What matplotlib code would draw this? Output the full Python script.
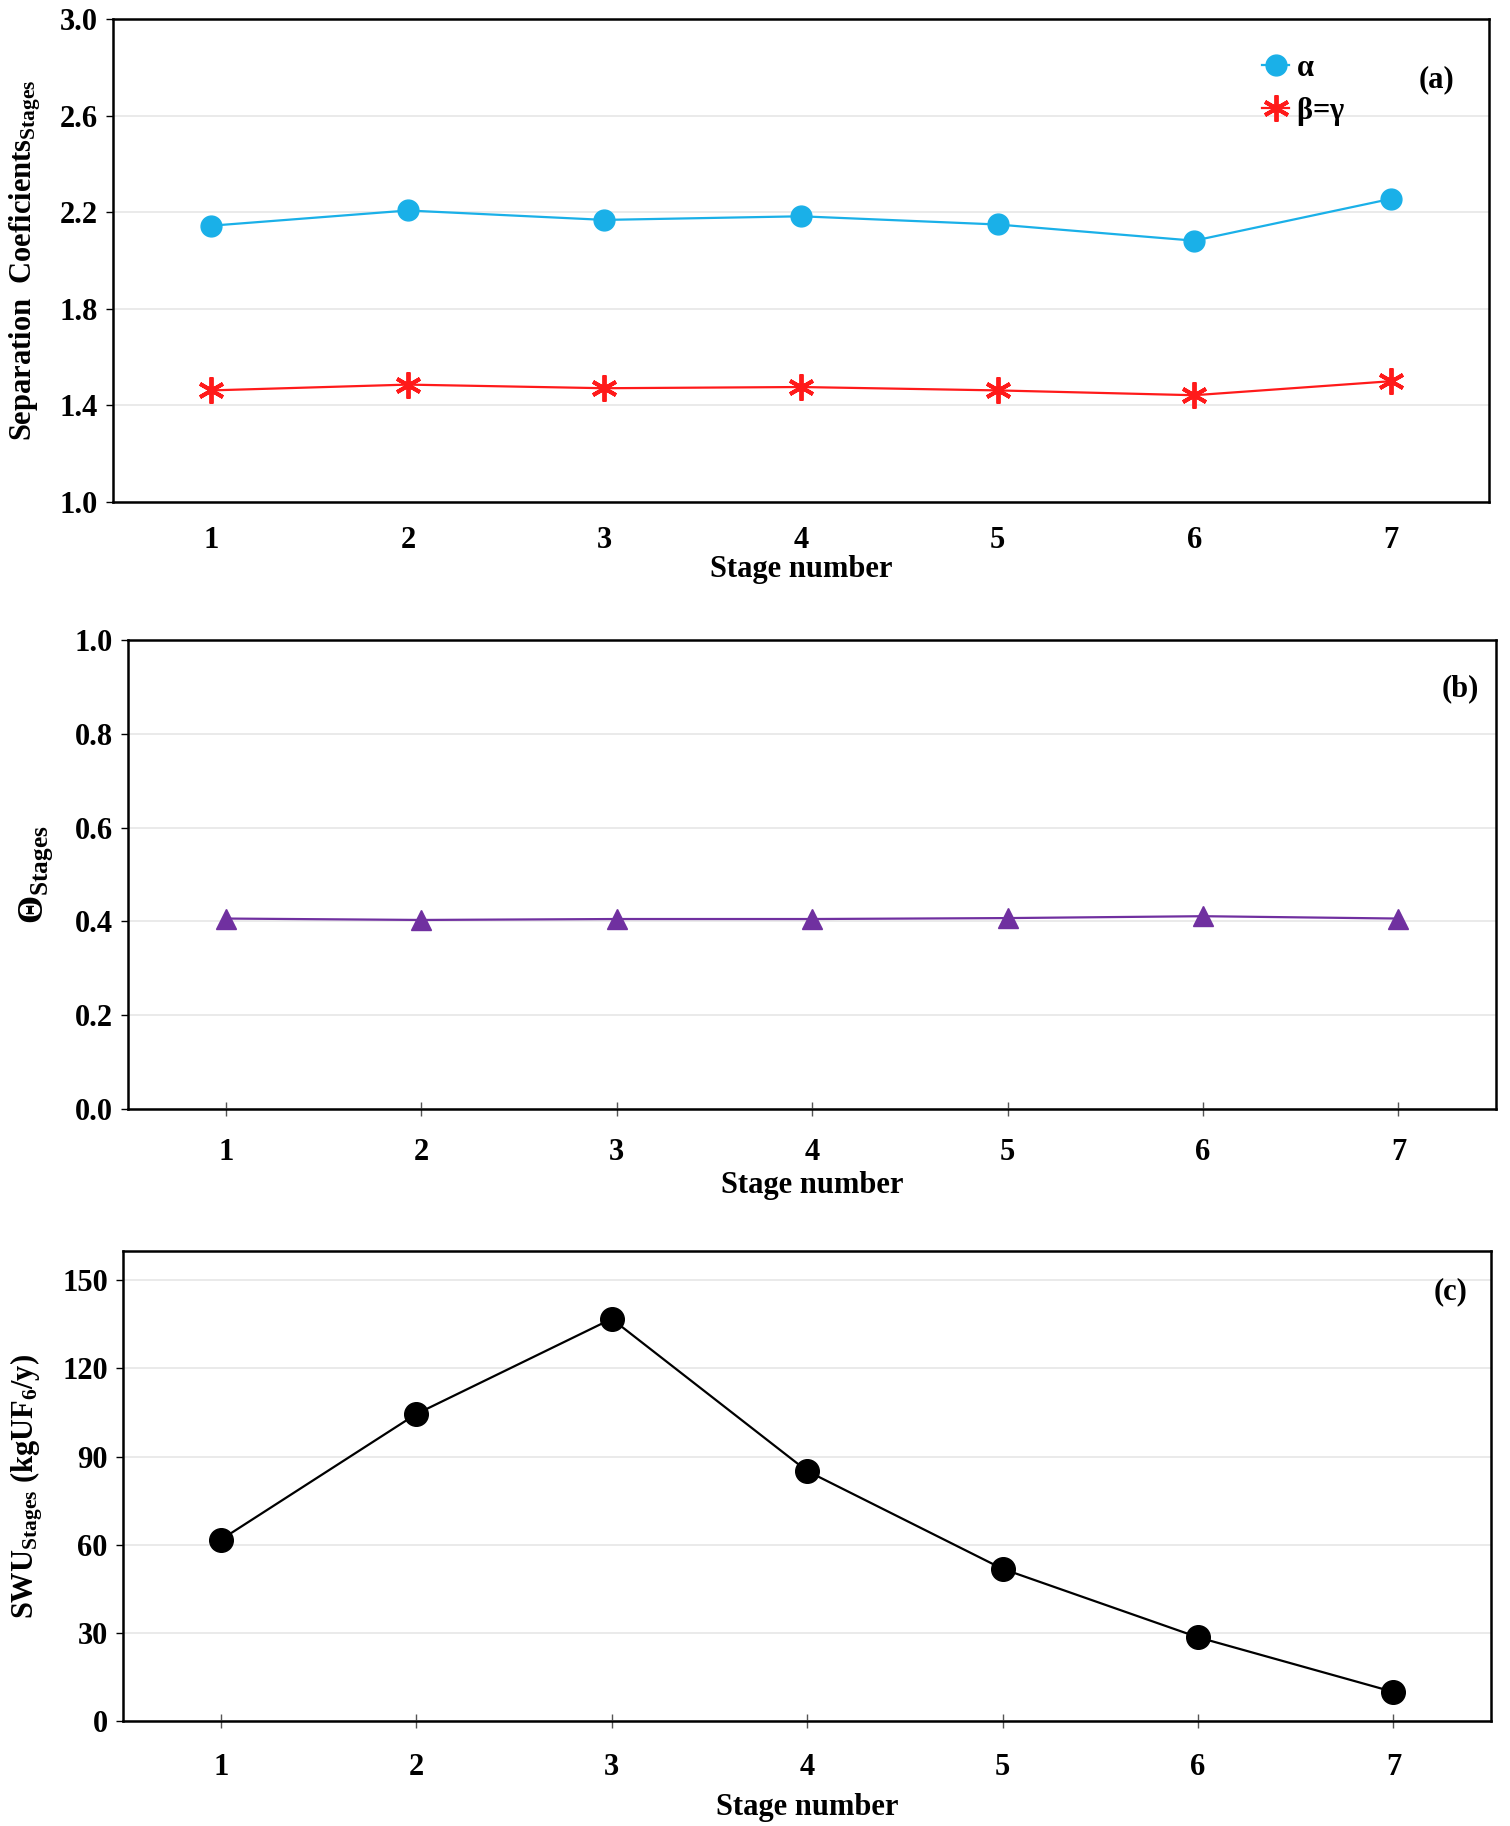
import numpy as np
import matplotlib
matplotlib.use("Agg")
import matplotlib.pyplot as plt

plt.rcParams['font.family'] = ['Liberation Serif', 'DejaVu Serif']
plt.rcParams['font.weight'] = 'bold'
plt.rcParams['mathtext.fontset'] = 'custom'
plt.rcParams['mathtext.rm'] = 'Liberation Serif:bold'
plt.rcParams['mathtext.bf'] = 'Liberation Serif:bold'
plt.rcParams['mathtext.it'] = 'Liberation Serif:bold'

# data
stages = [1, 2, 3, 4, 5, 6, 7]
alpha = [2.144, 2.207, 2.168, 2.183, 2.149, 2.082, 2.255]
beta_gamma = [1.462, 1.486, 1.471, 1.476, 1.462, 1.442, 1.500]
theta = [0.406, 0.403, 0.405, 0.405, 0.407, 0.411, 0.406]
swu = [61.7, 104.5, 136.9, 85.1, 51.8, 28.5, 9.9]

fig = plt.figure(figsize=(15.1, 18.26), dpi=100)
ax_a = fig.add_axes([0.0748, 0.7251, 0.9113, 0.2645])
ax_b = fig.add_axes([0.0848, 0.3927, 0.9060, 0.2568])
ax_c = fig.add_axes([0.0815, 0.0575, 0.9060, 0.2574])

fs = 22


def style(ax, yticks, ylim, xticks_visible=True, xpad=14, labelpad=0):
    ax.set_xlim(0.5, 7.5)
    ax.set_ylim(*ylim)
    ax.set_yticks(yticks)
    ax.set_xticks(stages)
    ax.set_axisbelow(True)
    ax.grid(axis='y', color='#e6e6e6', linewidth=1.2)
    for s in ax.spines.values():
        s.set_linewidth(1.8)
        s.set_color('black')
    ax.tick_params(axis='y', direction='out', length=5, width=1, labelsize=fs, pad=6)
    if xticks_visible:
        ax.tick_params(axis='x', direction='inout', length=10, width=1,
                       color='#555555', labelsize=fs, pad=xpad)
    else:
        ax.tick_params(axis='x', length=0, labelsize=fs, pad=xpad)
    ax.set_xlabel('Stage number', fontsize=fs, fontweight='bold', labelpad=labelpad)
    for lab in ax.get_xticklabels() + ax.get_yticklabels():
        lab.set_fontweight('bold')


# (a)
ax_a.plot(stages, alpha, color='#1ab0e8', lw=1.6, marker='o', ms=15,
          label=r'$\alpha$')
ax_a.plot(stages, beta_gamma, color='#ff1a1a', lw=1.6, marker=(6, 2, 0), ms=19,
          mew=2.8, label=r'$\beta$=$\gamma$')
style(ax_a, [1.0, 1.4, 1.8, 2.2, 2.6, 3.0], (1.0, 3.0), xticks_visible=False,
      xpad=17, labelpad=0)
ax_a.yaxis.set_major_formatter(matplotlib.ticker.FormatStrFormatter('%.1f'))
ax_a.set_ylabel(r'Separation  Coeficients$_{\mathrm{Stages}}$', fontsize=fs,
                fontweight='bold', labelpad=12)
ax_a.text(0.962, 0.875, '(a)', transform=ax_a.transAxes, fontsize=fs,
          fontweight='bold', ha='center', va='center')
leg = ax_a.legend(loc='upper left', bbox_to_anchor=(0.815, 0.985), frameon=False,
                  handlelength=0.9, handletextpad=0.2, labelspacing=0.4,
                  prop={'size': fs, 'weight': 'bold'})

# (b)
ax_b.plot(stages, theta, color='#7030a0', lw=1.6, marker='^', ms=15)
style(ax_b, [0.0, 0.2, 0.4, 0.6, 0.8, 1.0], (0.0, 1.0), xpad=16, labelpad=3)
ax_b.yaxis.set_major_formatter(matplotlib.ticker.FormatStrFormatter('%.1f'))
ax_b.set_ylabel(r'$\mathbf{\Theta}_{\mathrm{Stages}}$', fontsize=fs + 4,
                fontweight='bold', labelpad=14)
ax_b.text(0.974, 0.896, '(b)', transform=ax_b.transAxes, fontsize=fs,
          fontweight='bold', ha='center', va='center')

# (c)
ax_c.plot(stages, swu, color='black', lw=1.6, marker='o', ms=17)
style(ax_c, [0, 30, 60, 90, 120, 150], (0, 160), xpad=18, labelpad=8)
ax_c.set_ylabel(r'SWU$_{\mathrm{Stages}}$ (kgUF$_{6}$/y)', fontsize=fs,
                fontweight='bold', labelpad=12)
ax_c.text(0.970, 0.914, '(c)', transform=ax_c.transAxes, fontsize=fs,
          fontweight='bold', ha='center', va='center')

fig.savefig('out.png', dpi=100)
